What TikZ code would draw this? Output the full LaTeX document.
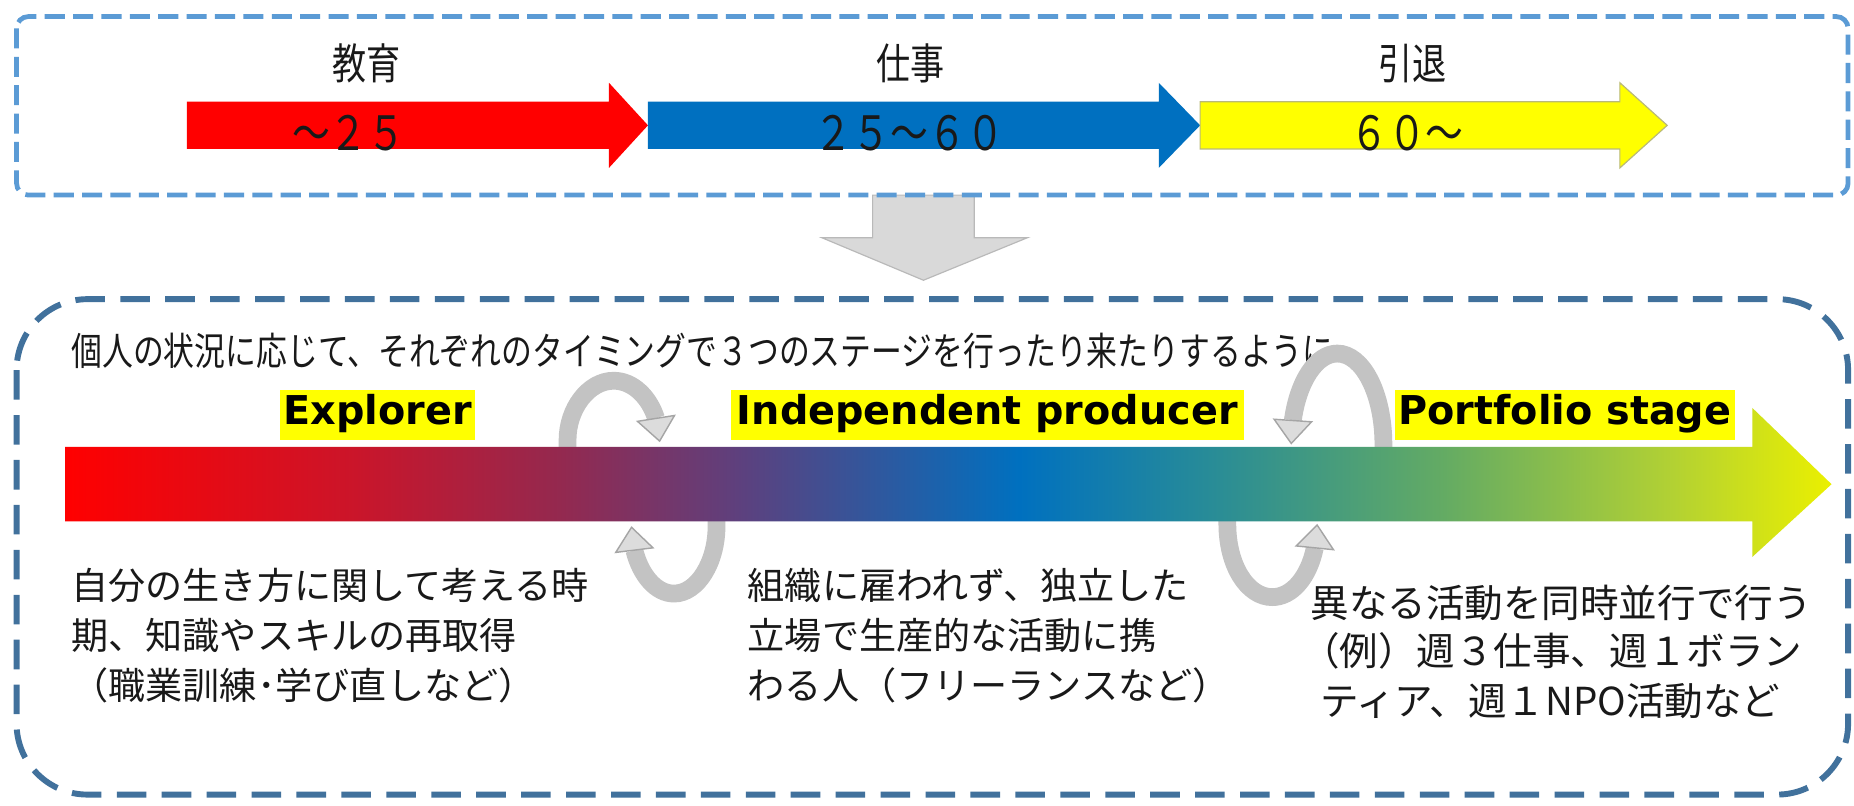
\documentclass[tikz,border=0pt]{standalone}
\usepackage{fontspec}
\setmainfont{Noto Sans CJK JP}
\newfontfamily\jpn{Noto Sans CJK JP}
\newfontfamily\jpnarrow{Noto Sans CJK JP}[FakeStretch=0.8]
\newfontfamily\labfont{DejaVu Sans}
\usetikzlibrary{arrows.meta,bending}
\definecolor{boxA}{RGB}{91,155,213}
\definecolor{boxB}{RGB}{65,113,156}
\definecolor{arrred}{RGB}{255,0,0}
\definecolor{arrblue}{RGB}{0,112,192}
\definecolor{arryel}{RGB}{255,255,0}
\definecolor{yelline}{RGB}{185,185,120}
\definecolor{dgray}{RGB}{217,217,217}
\definecolor{dgrayl}{RGB}{185,185,185}
\definecolor{arcband}{RGB}{195,195,195}
\definecolor{arcfill}{RGB}{220,220,220}
\definecolor{arcedge}{RGB}{165,165,165}
\definecolor{hilite}{RGB}{255,255,0}
\definecolor{ink}{RGB}{25,25,25}
\pgfdeclarehorizontalshading{lifegrad}{100bp}{
 rgb(0bp)=(1,0,0);
 rgb(25bp)=(1,0,0);
 rgb(33bp)=(0.80,0.08,0.16);
 rgb(39bp)=(0.58,0.16,0.31);
 rgb(44bp)=(0.37,0.25,0.49);
 rgb(52bp)=(0,0.44,0.75);
 rgb(57.5bp)=(0.16,0.55,0.59);
 rgb(64bp)=(0.39,0.67,0.39);
 rgb(70.5bp)=(0.70,0.82,0.20);
 rgb(75bp)=(0.92,0.94,0);
 rgb(100bp)=(0.92,0.94,0)}
\tikzset{
 toplab/.style={font=\jpnarrow\fontsize{18}{20}\selectfont, inner sep=0, text=ink},
 arrlab/.style={font=\jpnarrow\fontsize{20}{22}\selectfont, inner sep=0, text=ink},
 hdr/.style={font=\jpnarrow\fontsize{16.3}{18}\selectfont, inner sep=0, anchor=west, text=ink},
 stagelab/.style={fill=hilite, font=\labfont\bfseries\fontsize{16.8}{18}\selectfont,
   inner xsep=0, inner ysep=0, minimum height=21pt, text height=12.2pt, text depth=3.8pt},
 body/.style={font=\jpn\fontsize{15.7}{18}\selectfont, anchor=base west, inner sep=0, text=ink},
 bodyr/.style={font=\jpn\fontsize{16.3}{18}\selectfont, anchor=base west, inner sep=0, text=ink},
 curv/.style={line width=7.5pt, draw=arcband,
   -{Triangle[width=17pt,length=10.5pt,line width=0.6pt,color=arcedge,fill=arcfill]}},
}
\begin{document}
\begin{tikzpicture}[x=0.5pt,y=-0.5pt]
\useasboundingbox (0,0) rectangle (1568,681);
\fill[white] (0,0) rectangle (1568,681);
% top arrows
\fill[arrred] (158,86) -- (515,86) -- (515,70) -- (548,106) -- (515,142) -- (515,126) -- (158,126) -- cycle;
\fill[arrblue] (548,86) -- (980,86) -- (980,70) -- (1015,106) -- (980,142) -- (980,126) -- (548,126) -- cycle;
\draw[yelline, fill=arryel, line width=0.5pt] (1015,86) -- (1370,86) -- (1370,70) -- (1410,106) -- (1370,142) -- (1370,126) -- (1015,126) -- cycle;
\node[toplab] (t1) at (310,54) {教育};
\node[toplab] (t2) at (770,54) {仕事};
\node[toplab] (t3) at (1195,54) {引退};
\node[arrlab] (n1) at (295,113) {～２５};
\node[arrlab] (n2) at (769,113) {２５～６０};
\node[arrlab] (n3) at (1190,113) {６０～};
% down arrow
\draw[dgrayl, fill=dgray, line width=0.5pt] (738,165) -- (824,165) -- (824,201) -- (869,201) -- (781,237) -- (695,201) -- (738,201) -- cycle;
% boxes
\draw[boxA, line width=2pt, dash pattern=on 8.5pt off 3.5pt, rounded corners=5pt] (14,14) rectangle (1563,165);
\draw[boxB, line width=2.5pt, dash pattern=on 12.5pt off 6.5pt, rounded corners=30pt] (14,253) rectangle (1563,672);
% header
\node[hdr] (hd) at (60,297) {個人の状況に応じて、それぞれのタイミングで３つのステージを行ったり来たりするように};
% stage labels
\node[stagelab, minimum width=82.5pt] (s1) at (319.5,351) {Explorer};
\node[stagelab, minimum width=217pt] (s2) at (835,351) {Independent producer};
\node[stagelab, minimum width=143.5pt] (s3) at (1323.5,351) {Portfolio stage};
% curved arrows
\draw[curv] (480,382) -- (480,372) .. controls (480,346) and (497.5,322) .. (519,322) .. controls (540.5,322) and (558,346) .. (558,374);
\draw[curv] (606,437) -- (606,445) .. controls (606,475.4) and (589.9,502) .. (570,502) .. controls (550.1,502) and (534,475.4) .. (534,445);
\draw[curv] (1170,382) -- (1170,376) .. controls (1170,333) and (1152.5,299) .. (1131,299) .. controls (1109.5,299) and (1092,333) .. (1092,376);
\draw[curv] (1038,437) -- (1038,443) .. controls (1038,478.3) and (1055,505) .. (1076,505) .. controls (1097,505) and (1114,478.3) .. (1114,443);
% gradient arrow
\path[shading=lifegrad] (55,378) -- (1482,378) -- (1482,345) -- (1549,409.5) -- (1482,471) -- (1482,441) -- (55,441) -- cycle;
% bottom texts
\node[body] (l1) at (60,507) {自分の生き方に関して考える時};
\node[body] (l2) at (60,549) {期、知識やスキルの再取得};
\node[body] (l3) at (60,592) {（職業訓練･学び直しなど）};
\node[body] (m1) at (632,507) {組織に雇われず、独立した};
\node[body] (m2) at (632,549) {立場で生産的な活動に携};
\node[body] (m3) at (632,592) {わる人（フリーランスなど）};
\node[bodyr] (r1) at (1108,522) {異なる活動を同時並行で行う};
\node[bodyr] (r2) at (1100,563) {（例）週３仕事、週１ボラン};
\node[bodyr] (r3) at (1116,605) {ティア、週１NPO活動など};
\end{tikzpicture}
\end{document}
